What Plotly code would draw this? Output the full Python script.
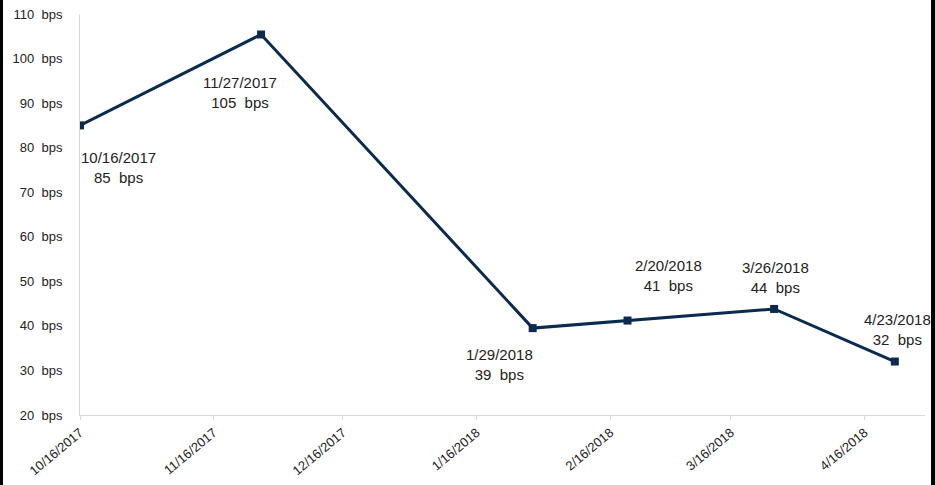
import plotly.graph_objects as go

dates = ["2017-10-16", "2017-11-27", "2018-01-29", "2018-02-20", "2018-03-26", "2018-04-23"]
date_labels = ["10/16/2017", "11/27/2017", "1/29/2018", "2/20/2018", "3/26/2018", "4/23/2018"]
values = [85, 105.4, 39.5, 41.2, 43.8, 32]
value_labels = [85, 105, 39, 41, 44, 32]
tick_dates = ["2017-10-16", "2017-11-16", "2017-12-16", "2018-01-16", "2018-02-16", "2018-03-16", "2018-04-16"]
tick_text = ["10/16/2017", "11/16/2017", "12/16/2017", "1/16/2018", "2/16/2018", "3/16/2018", "4/16/2018"]
y_ticks = [20, 30, 40, 50, 60, 70, 80, 90, 100, 110]

NAVY = "#0b2a4f"
FONT = "Liberation Sans"

fig = go.Figure()
fig.add_trace(go.Scatter(
    x=dates, y=values, mode="lines+markers",
    line=dict(color=NAVY, width=3),
    marker=dict(symbol="square", size=8, color=NAVY),
    hoverinfo="skip", showlegend=False,
))

# label offsets (pixels) relative to each point
offsets = [(38, -42), (-21, -58), (-33, -36), (41, 45), (1, 31), (3, 32)]
for d, dl, vl, v, (dx, dy) in zip(dates, date_labels, value_labels, values, offsets):
    fig.add_annotation(
        x=d, y=v, text=f"{dl}<br>{vl}&nbsp; bps", showarrow=False,
        xshift=dx, yshift=dy, font=dict(family=FONT, size=15, color="#222222"),
        align="center",
    )

fig.update_layout(
    width=935, height=485,
    margin=dict(l=80, r=10, t=14, b=70, autoexpand=False),
    paper_bgcolor="white", plot_bgcolor="white",
    font=dict(family=FONT, color="#222222"),
    xaxis=dict(
        type="date", range=["2017-10-16", "2018-04-30"],
        tickvals=tick_dates, ticktext=tick_text, tickangle=-40,
        tickfont=dict(size=13, family=FONT), automargin=False,
        showgrid=False, zeroline=False,
        showline=True, linecolor="#d9d9d9", linewidth=1,
        ticks="outside", ticklen=4, tickcolor="#d9d9d9",
    ),
    yaxis=dict(
        range=[20, 110], tickvals=y_ticks,
        ticktext=[f"{v}&nbsp; bps" for v in y_ticks],
        tickfont=dict(size=13, family=FONT), automargin=False,
        showgrid=False, zeroline=False,
        showline=True, linecolor="#d9d9d9", linewidth=1,
        ticks="", ticklabelstandoff=14,
    ),
    shapes=[
        dict(type="rect", xref="paper", yref="paper", x0=-80/845, x1=-77/845,
             y0=-70/401, y1=1 + 14/401, fillcolor="black", line=dict(width=0), layer="above"),
        dict(type="rect", xref="paper", yref="paper", x0=1 + 6/845, x1=1 + 10/845,
             y0=-70/401, y1=1 + 14/401, fillcolor="black", line=dict(width=0), layer="above"),
    ],
)

fig.write_html("out.html")
